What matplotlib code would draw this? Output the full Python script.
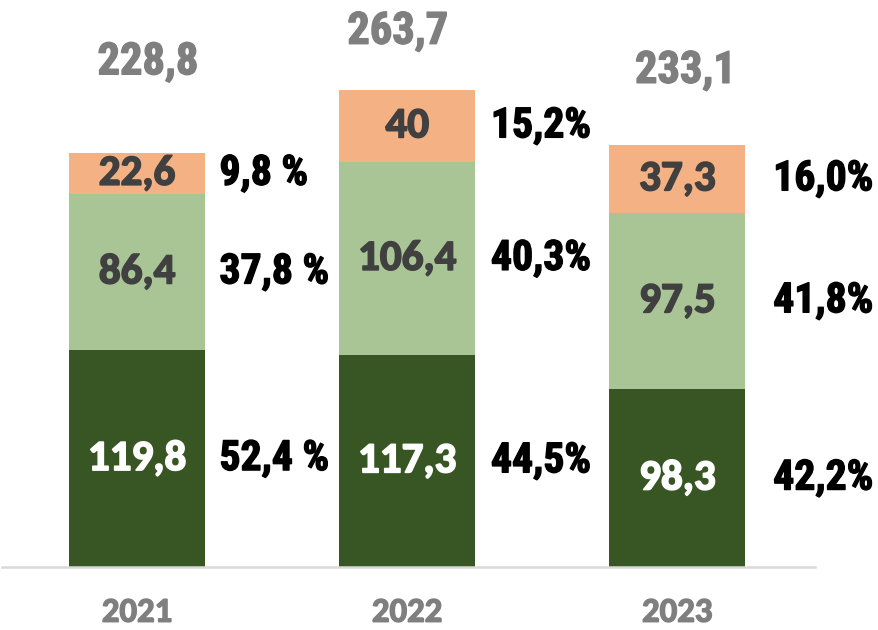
import matplotlib
matplotlib.use("Agg")
import matplotlib.pyplot as plt
from matplotlib import font_manager as fm
from matplotlib import patheffects as pe

years = ["2021", "2022", "2023"]
bottom_vals = [119.8, 117.3, 98.3]
middle_vals = [86.4, 106.4, 97.5]
top_vals = [22.6, 40.0, 37.3]
totals = ["228,8", "263,7", "233,1"]
bottom_lbl = ["119,8", "117,3", "98,3"]
middle_lbl = ["86,4", "106,4", "97,5"]
top_lbl = ["22,6", "40", "37,3"]
pct_bottom = ["52,4 %", "44,5%", "42,2%"]
pct_middle = ["37,8 %", "40,3%", "41,8%"]
pct_top = ["9,8 %", "15,2%", "16,0%"]

c_dark = "#375623"
c_light = "#A9C596"
c_orange = "#F4B183"


def bold_font(name, size):
    for f in fm.fontManager.ttflist:
        if f.name == name and f.weight == 700 and f.style == "normal":
            return fm.FontProperties(fname=f.fname, size=size)
    return fm.FontProperties(family=[name, "DejaVu Sans"], weight="bold", size=size)


def thick(col, lw=1.3):
    return [pe.withStroke(linewidth=lw, foreground=col)]


fig = plt.figure(figsize=(8.79, 6.30), dpi=100)
ax = fig.add_axes([0.0023, 0.1, 0.925, 0.862])
x = list(range(len(years)))
w = 0.504
ax.bar(x, bottom_vals, w, color=c_dark)
ax.bar(x, middle_vals, w, bottom=bottom_vals, color=c_light)
top_base = [b + m for b, m in zip(bottom_vals, middle_vals)]
ax.bar(x, top_vals, w, bottom=top_base, color=c_orange)

ax.set_xlim(-0.5, 2.51)
ax.set_ylim(0, 300)
for s in ["top", "right", "left"]:
    ax.spines[s].set_visible(False)
ax.spines["bottom"].set_color("#D9D9D9")
ax.spines["bottom"].set_linewidth(1.8)
ax.set_yticks([])
ax.set_xticks([])

inner_fp = bold_font("Carlito", 31)
year_fp = bold_font("Carlito", 25)
pct_fp = bold_font("Roboto Condensed", 30)
tot_fp = bold_font("Roboto Condensed", 32)

pct_dx = [0.305, 0.31, 0.355]
tot_dx = [0.04, -0.035, 0.03]
tot_dy = [50, 32, 41]

for i in x:
    b = bottom_vals[i]; m = middle_vals[i]; t = top_vals[i]
    yc = [b / 2, b + m / 2, b + m + t / 2]
    labels = [bottom_lbl[i], middle_lbl[i], top_lbl[i]]
    colors = ["white", "#404040", "#404040"]
    for yy, lab, col in zip(yc, labels, colors):
        ax.text(i, yy, lab, ha="center", va="center", color=col, fontproperties=inner_fp,
                path_effects=thick(col, 1.2))
    pcts = [pct_bottom[i], pct_middle[i], pct_top[i]]
    for yy, lab in zip(yc, pcts):
        ax.text(i + pct_dx[i], yy, lab, ha="left", va="center", color="black",
                fontproperties=pct_fp, path_effects=thick("black", 1.0))
    ax.text(i + tot_dx[i], b + m + t + tot_dy[i], totals[i], ha="center", va="center",
            color="#7F7F7F", fontproperties=tot_fp, path_effects=thick("#7F7F7F", 1.0))
    ax.text(i, -25, years[i], ha="center", va="center", color="#7F7F7F",
            fontproperties=year_fp, clip_on=False, path_effects=thick("#7F7F7F", 1.0))

fig.savefig("out.png", dpi=100)
